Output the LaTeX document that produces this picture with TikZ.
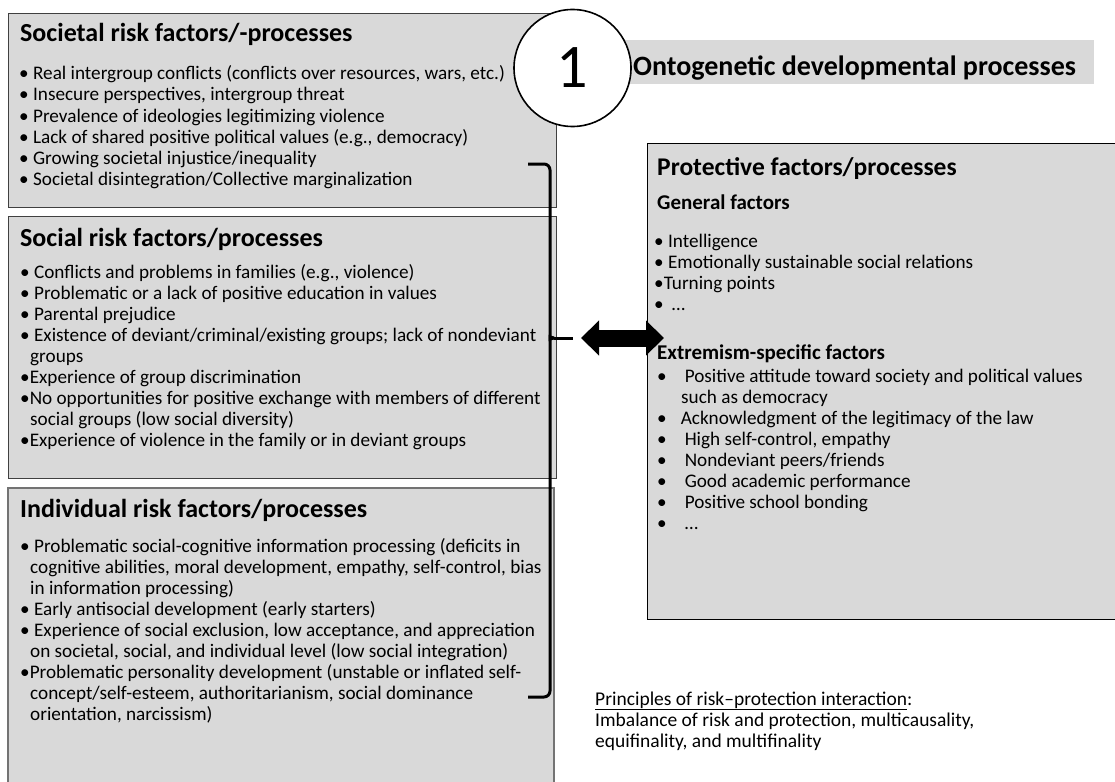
\documentclass[tikz,border=0pt]{standalone}
\usepackage{fontspec}
\setmainfont{Carlito}
\usetikzlibrary{arrows.meta}
\definecolor{panelgray}{HTML}{D9D9D9}
\newcommand{\blt}{\textbullet\ }

\tikzset{
  panel/.style={draw=black!75, fill=panelgray, line width=1pt},
  head/.style={anchor=base west, inner sep=0, font=\fontsize{26}{30}\selectfont\bfseries},
  subhead/.style={anchor=base west, inner sep=0, font=\fontsize{21}{24}\selectfont\bfseries},
  itm/.style={anchor=base west, inner sep=0, font=\fontsize{19.2}{21}\selectfont},
  note/.style={anchor=base west, inner sep=0, font=\fontsize{19.5}{21}\selectfont},
  bigarrow/.style={line width=17pt, {Triangle[length=18pt,width=34pt]}-{Triangle[length=18pt,width=34pt]}},
  bracket/.style={line width=3pt, rounded corners=6pt},
}

\begin{document}
\begin{tikzpicture}[x=1pt, y=-1pt]
\fill[white] (0,0) rectangle (1115,781);
\useasboundingbox (0,0) rectangle (1115,781);

% risk panels
\draw[panel] (8,14) rectangle (556,207);
\draw[panel] (8,216) rectangle (556,478);
\draw[panel, draw=black!55, line width=1.5pt] (8,488) rectangle (554,795);

% protective panel
\draw[panel, draw=black] (647,143) rectangle (1125,619);

% heading band and circle
\fill[panelgray] (590,40) rectangle (1094,84);
\node[anchor=base west, inner sep=0, font=\fontsize{28}{32}\selectfont\bfseries] (onto) at (633,76) {Ontogenetic developmental processes};
\node[circle, draw, line width=1.6pt, fill=white, minimum size=117pt, inner sep=0, font=\fontsize{62}{64}\selectfont] (one) at (572.5,68) {1};

% societal
\node[head] (socT) at (20,42) {Societal risk factors/-processes};
\node[itm] (soc1) at (19,80) {\blt Real intergroup conflicts (conflicts over resources, wars, etc.)};
\node[itm] (soc2) at (19,101) {\blt Insecure perspectives, intergroup threat};
\node[itm] (soc3) at (19,122) {\blt Prevalence of ideologies legitimizing violence};
\node[itm] (soc4) at (19,143) {\blt Lack of shared positive political values (e.g., democracy)};
\node[itm] (soc5) at (19,164) {\blt Growing societal injustice/inequality};
\node[itm] (soc6) at (19,185) {\blt Societal disintegration/Collective marginalization};

% social
\node[head] (solT) at (20,246) {Social risk factors/processes};
\node[itm] (sol1) at (20,278) {\blt Conflicts and problems in families (e.g., violence)};
\node[itm] (sol2) at (20,299) {\blt Problematic or a lack of positive education in values};
\node[itm] (sol3) at (20,320) {\blt Parental prejudice};
\node[itm] (sol4) at (20,341) {\blt Existence of deviant/criminal/existing groups; lack of nondeviant};
\node[itm] (sol5) at (30,362) {groups};
\node[itm] (sol6) at (20,383) {\textbullet Experience of group discrimination};
\node[itm] (sol7) at (20,404) {\textbullet No opportunities for positive exchange with members of different};
\node[itm] (sol8) at (30,425) {social groups (low social diversity)};
\node[itm] (sol9) at (20,446) {\textbullet Experience of violence in the family or in deviant groups};

% individual
\node[head] (indT) at (20,517) {Individual risk factors/processes};
\node[itm] (ind1) at (20,552) {\blt Problematic social-cognitive information processing (deficits in};
\node[itm] (ind2) at (30,573) {cognitive abilities, moral development, empathy, self-control, bias};
\node[itm] (ind3) at (30,594) {in information processing)};
\node[itm] (ind4) at (20,615) {\blt Early antisocial development (early starters)};
\node[itm] (ind5) at (20,636) {\blt Experience of social exclusion, low acceptance, and appreciation};
\node[itm] (ind6) at (30,657) {on societal, social, and individual level (low social integration)};
\node[itm] (ind7) at (20,678) {\textbullet Problematic personality development (unstable or inflated self-};
\node[itm] (ind8) at (30,699) {concept/self-esteem, authoritarianism, social dominance};
\node[itm] (ind9) at (30,720) {orientation, narcissism)};

% protective
\node[head, font=\fontsize{25.5}{28}\selectfont\bfseries] (proT) at (657,175) {Protective factors/processes};
\node[subhead] (genT) at (657,209) {General factors};
\node[itm] (gen1) at (654,247) {\blt Intelligence};
\node[itm] (gen2) at (654,268) {\blt Emotionally sustainable social relations};
\node[itm] (gen3) at (654,289) {\textbullet Turning points};
\node[itm] (gen4) at (654,310) {\textbullet\hspace{8pt}…};
\node[subhead] (extT) at (657,359) {Extremism-specific factors};
\node[itm] (ext1) at (657,382) {\textbullet\hspace{18pt}Positive attitude toward society and political values};
\node[itm] (ext2) at (681,403) {such as democracy};
\node[itm] (ext3) at (657,424) {\textbullet\hspace{14pt}Acknowledgment of the legitimacy of the law};
\node[itm] (ext4) at (657,445) {\textbullet\hspace{18pt}High self-control, empathy};
\node[itm] (ext5) at (657,466) {\textbullet\hspace{18pt}Nondeviant peers/friends};
\node[itm] (ext6) at (657,487) {\textbullet\hspace{18pt}Good academic performance};
\node[itm] (ext7) at (657,508) {\textbullet\hspace{18pt}Positive school bonding};
\node[itm] (ext8) at (657,529) {\textbullet\hspace{18pt}…};

% principles
\node[note] (prin1) at (595,705) {\underline{Principles of risk–protection interaction}:};
\node[note] (prin2) at (595,726) {Imbalance of risk and protection, multicausality,};
\node[note] (prin3) at (595,747) {equifinality, and multifinality};

% bracket and arrow
\coordinate (brkTop) at (528,164);
\coordinate (brkBot) at (528,697);
\coordinate (brkTip) at (554,338);
\coordinate (brkEnd) at (573,338);
\draw[bracket] (brkTop) -- (550,164) -- (550,332) .. controls (550,336) and (551,338) .. (brkTip);
\draw[bracket] (brkTip) .. controls (551,338) and (550,340) .. (550,344) -- (550,697) -- (brkBot);
\draw[line width=3pt] (brkTip) -- (brkEnd);
\coordinate (arrL) at (581,338);
\coordinate (arrR) at (664,338);
\draw[bigarrow] (arrL) -- (arrR);
\end{tikzpicture}
\end{document}
